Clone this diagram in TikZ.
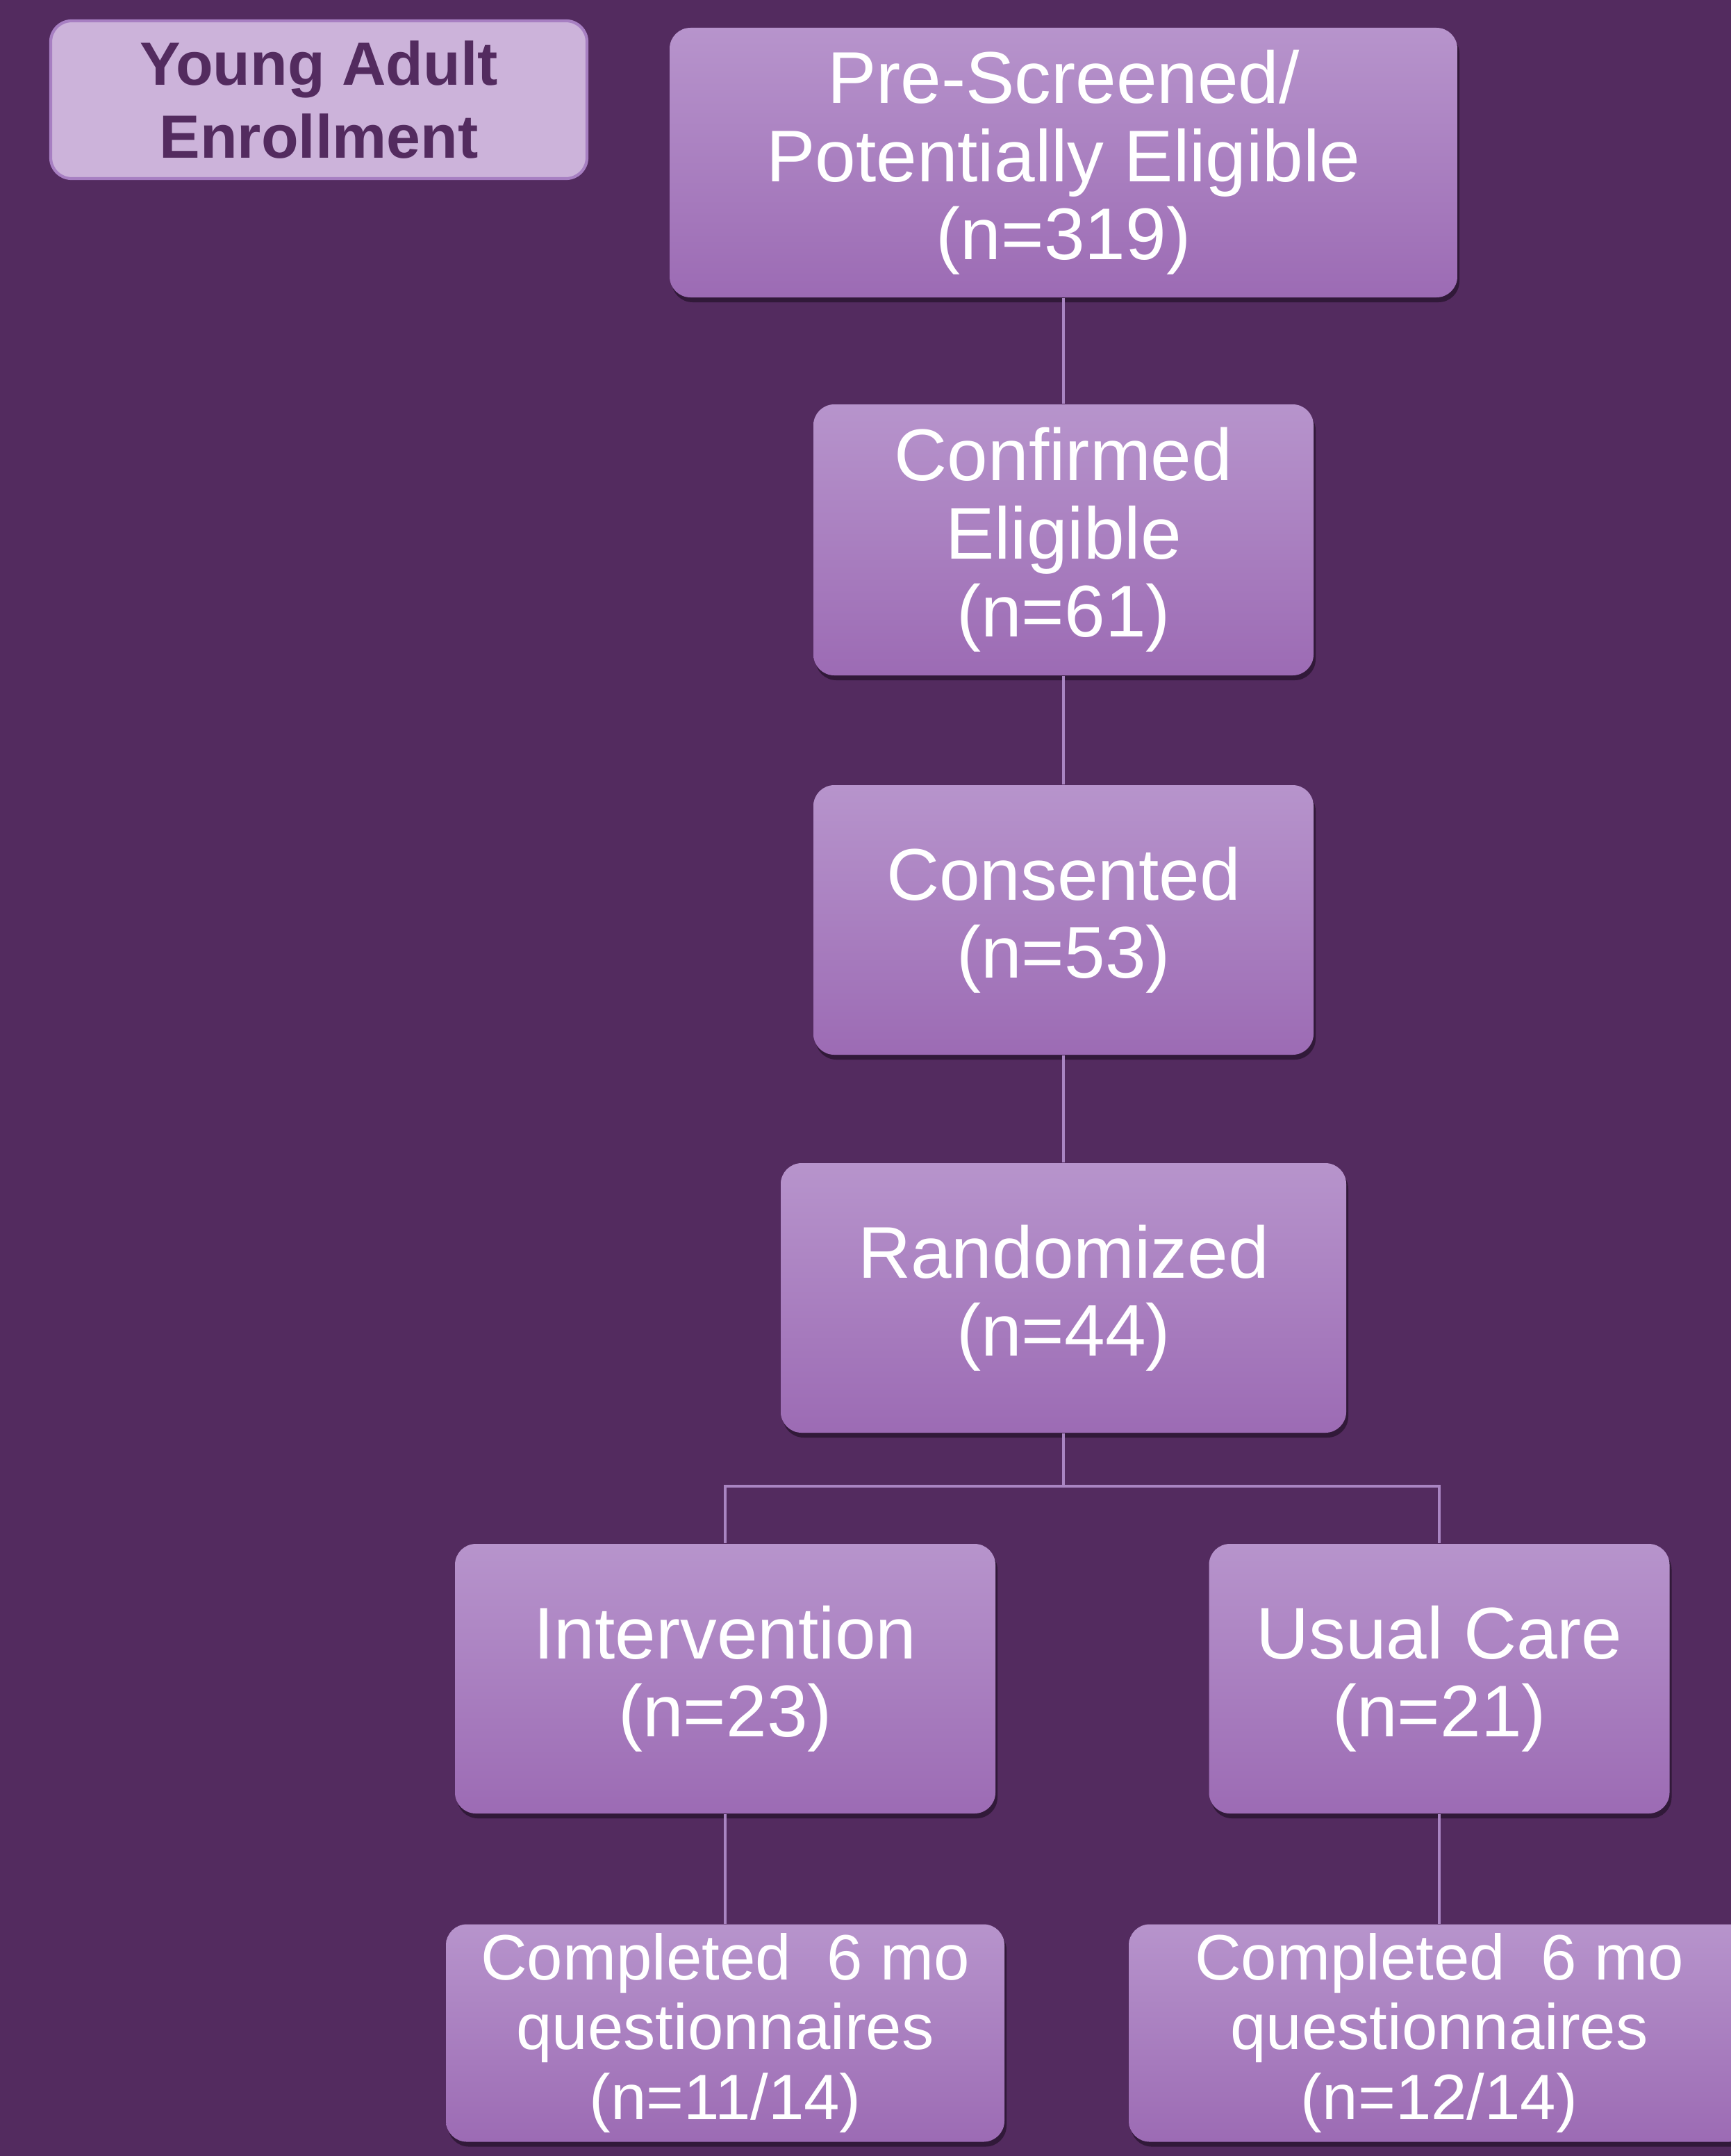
\documentclass[tikz,border=0pt]{standalone}
\usepackage{fontspec}
\setmainfont{Liberation Sans}
\usepackage{tikz}
\usetikzlibrary{shadows}
\definecolor{bgpurple}{HTML}{532B5F}
\definecolor{boxtop}{HTML}{B794CC}
\definecolor{boxbottom}{HTML}{9C6BB4}
\definecolor{linepurple}{HTML}{A985C2}
\definecolor{titlefill}{HTML}{CCB3DA}
\definecolor{titleline}{HTML}{A77FC2}

\begin{document}
\begin{tikzpicture}[
  box/.style={rectangle, rounded corners=0.3cm, top color=boxtop, bottom color=boxbottom,
    text=white, align=center, inner sep=0pt,
    font=\fontsize{30}{32}\selectfont,
    drop shadow={shadow xshift=0.03cm, shadow yshift=-0.07cm, opacity=0.4, fill=black}},
  donebox/.style={box, font=\fontsize{26.3}{28.5}\selectfont},
  titlebox/.style={rectangle, rounded corners=0.3cm, fill=titlefill, draw=titleline,
    line width=1.2pt, text=bgpurple, align=center, inner sep=0pt,
    font=\fontsize{25}{30}\selectfont\bfseries},
  link/.style={draw=linepurple, line width=0.9pt}]
 \fill[bgpurple] (0,0) rectangle (24.92,-31.03);
 \useasboundingbox (0,0) rectangle (24.92,-31.03);

 \node[titlebox, minimum width=7.72cm, minimum height=2.27cm] (title) at (4.59,-1.435) {Young Adult\\Enrollment};

 \node[box, minimum width=11.34cm, minimum height=3.88cm] (screen) at (15.31,-2.34) {Pre-Screened/\\Potentially Eligible\\(n=319)};
 \node[box, minimum width=7.20cm, minimum height=3.90cm] (elig) at (15.31,-7.77) {Confirmed\\Eligible\\(n=61)};
 \node[box, minimum width=7.20cm, minimum height=3.88cm] (consent) at (15.31,-13.24) {Consented\\(n=53)};
 \node[box, minimum width=8.14cm, minimum height=3.88cm] (rand) at (15.31,-18.68) {Randomized\\(n=44)};

 \node[box, minimum width=7.78cm, minimum height=3.88cm] (interv) at (10.44,-24.16) {Intervention\\(n=23)};
 \node[box, minimum width=6.63cm, minimum height=3.88cm] (usual) at (20.72,-24.16) {Usual Care\\(n=21)};

 \node[donebox, minimum width=8.04cm, minimum height=3.13cm] (intdone) at (10.44,-29.26) {Completed~ 6 mo\\questionnaires\\(n=11/14)};
 \node[donebox, minimum width=8.94cm, minimum height=3.13cm] (usdone) at (20.72,-29.26) {Completed~ 6 mo\\questionnaires\\(n=12/14)};

 \coordinate (split) at (15.31,-21.39);

 \draw[link] (screen) -- (elig);
 \draw[link] (elig) -- (consent);
 \draw[link] (consent) -- (rand);
 \draw[link] (rand) -- (split);
 \draw[link] (split) -| (interv.north);
 \draw[link] (split) -| (usual.north);
 \draw[link] (interv) -- (intdone);
 \draw[link] (usual) -- (usdone);
\end{tikzpicture}
\end{document}
